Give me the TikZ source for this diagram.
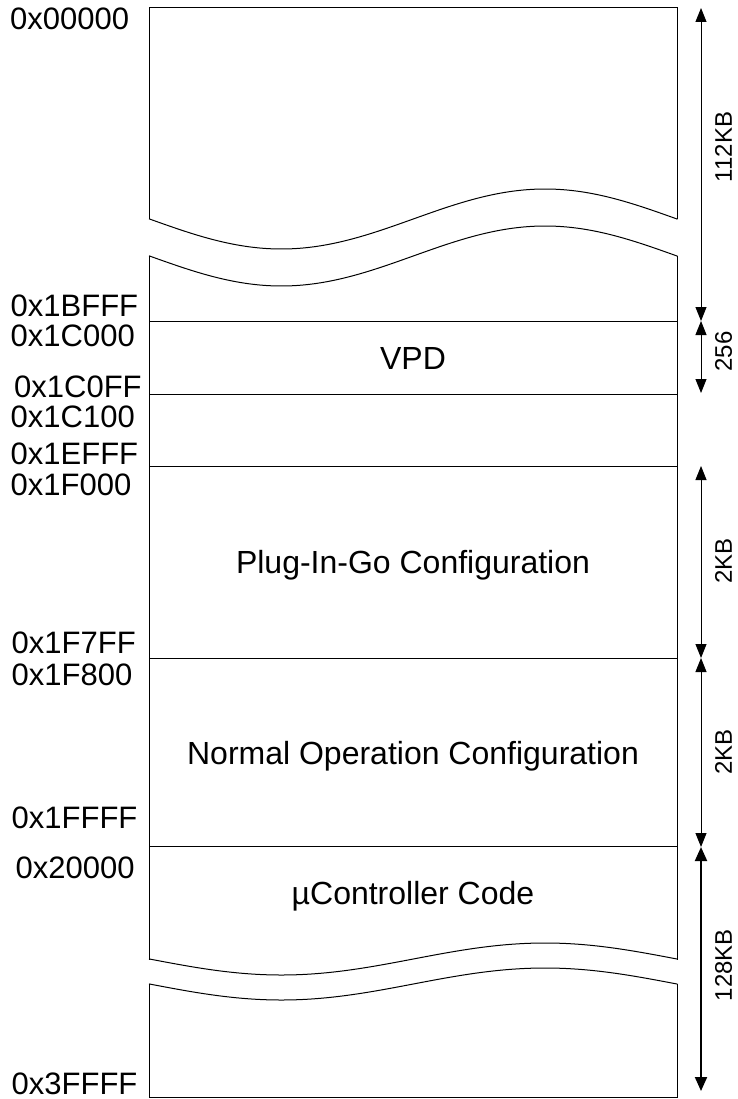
\documentclass[tikz,border=0pt]{standalone}
\usepackage{fontspec}
\setmainfont{Liberation Sans}
\usetikzlibrary{arrows.meta}
\begin{document}
\begin{tikzpicture}[x=1pt,y=-1pt,
  outline/.style={line width=1pt, line join=miter, line cap=rect},
  addr/.style={anchor=base west, inner sep=0pt, font=\fontsize{31}{31}\selectfont},
  region/.style={anchor=base, inner sep=0pt, font=\fontsize{32}{32}\selectfont},
  sizelbl/.style={rotate=90, inner sep=0pt, font=\fontsize{24}{24}\selectfont},
  span/.style={line width=1pt, {Triangle[width=11pt,length=14pt]}-{Triangle[width=11pt,length=14pt]}},
  bigspan/.style={line width=2pt, {Triangle[width=12pt,length=14pt]}-{Triangle[width=12pt,length=14pt]}},
]
\useasboundingbox (0,0) rectangle (737,1099);

% memory column: left and right edges
\def\xl{149.5}
\def\xr{677}

% top piece, broken off by a wave
\draw[outline] (\xl,219) -- (\xl,8) -- (\xr,8) -- (\xr,219);
\draw[outline] plot[domain=\xl:\xr, samples=90, smooth]
  (\x, {219+30*sin((\x-\xl)/(\xr-\xl)*360)});

% middle piece between the two breaks
\draw[outline] plot[domain=\xl:\xr, samples=90, smooth]
  (\x, {256+30*sin((\x-\xl)/(\xr-\xl)*360)});
\draw[outline] (\xl,256) -- (\xl,959);
\draw[outline] (\xr,256) -- (\xr,959);
\draw[outline] plot[domain=\xl:\xr, samples=90, smooth]
  (\x, {959+16*sin((\x-\xl)/(\xr-\xl)*360)});

% bottom piece
\draw[outline] plot[domain=\xl:\xr, samples=90, smooth]
  (\x, {984+16*sin((\x-\xl)/(\xr-\xl)*360)});
\draw[outline] (\xl,984) -- (\xl,1097) -- (\xr,1097) -- (\xr,984);

% region boundaries
\foreach \yy in {321,394,466,658,846}
  \draw[outline] (\xl,\yy) -- (\xr,\yy);

% region names
\node[region] (vpd)  at (413,369) {VPD};
\node[region] (pig)  at (413,573) {Plug-In-Go Configuration};
\node[region] (noc)  at (413,764) {Normal Operation Configuration};
\node[region] (code) at (413,904) {µController Code};

% addresses
\node[addr] (a00000) at (10,30)     {0x00000};
\node[addr] (a1bfff) at (10.5,316.5) {0x1BFFF};
\node[addr] (a1c000) at (10.5,346.5) {0x1C000};
\node[addr] (a1c0ff) at (14,397)    {0x1C0FF};
\node[addr] (a1c100) at (10.5,427)  {0x1C100};
\node[addr] (a1efff) at (10.5,464)  {0x1EFFF};
\node[addr] (a1f000) at (10.5,495)  {0x1F000};
\node[addr] (a1f7ff) at (11.5,653.5) {0x1F7FF};
\node[addr] (a1f800) at (11.5,685.5) {0x1F800};
\node[addr] (a1ffff) at (11.5,828.5) {0x1FFFF};
\node[addr] (a20000) at (15.5,878.5) {0x20000};
\node[addr] (a3ffff) at (11.5,1094.5) {0x3FFFF};

% size dimension arrows
\coordinate (d0) at (701,8);
\coordinate (d1) at (701,321);
\coordinate (d2) at (701,393);
\coordinate (d3) at (701,466);
\coordinate (d4) at (701,658);
\coordinate (d5) at (701,847);
\coordinate (d6) at (701,1091);
\draw[span] (d0) -- (d1);
\draw[span] (d1) -- (d2);
\draw[span] (d3) -- (d4);
\draw[span] (d4) -- (d5);
\draw[bigspan] (d5) -- (d6);

\node[sizelbl] (s112) at (723.5,147)   {112KB};
\node[sizelbl] (s256) at (723.5,351.5) {256};
\node[sizelbl] (s2a)  at (723.5,561)   {2KB};
\node[sizelbl] (s2b)  at (723.5,752)   {2KB};
\node[sizelbl] (s128) at (723.5,965)   {128KB};
\end{tikzpicture}
\end{document}
